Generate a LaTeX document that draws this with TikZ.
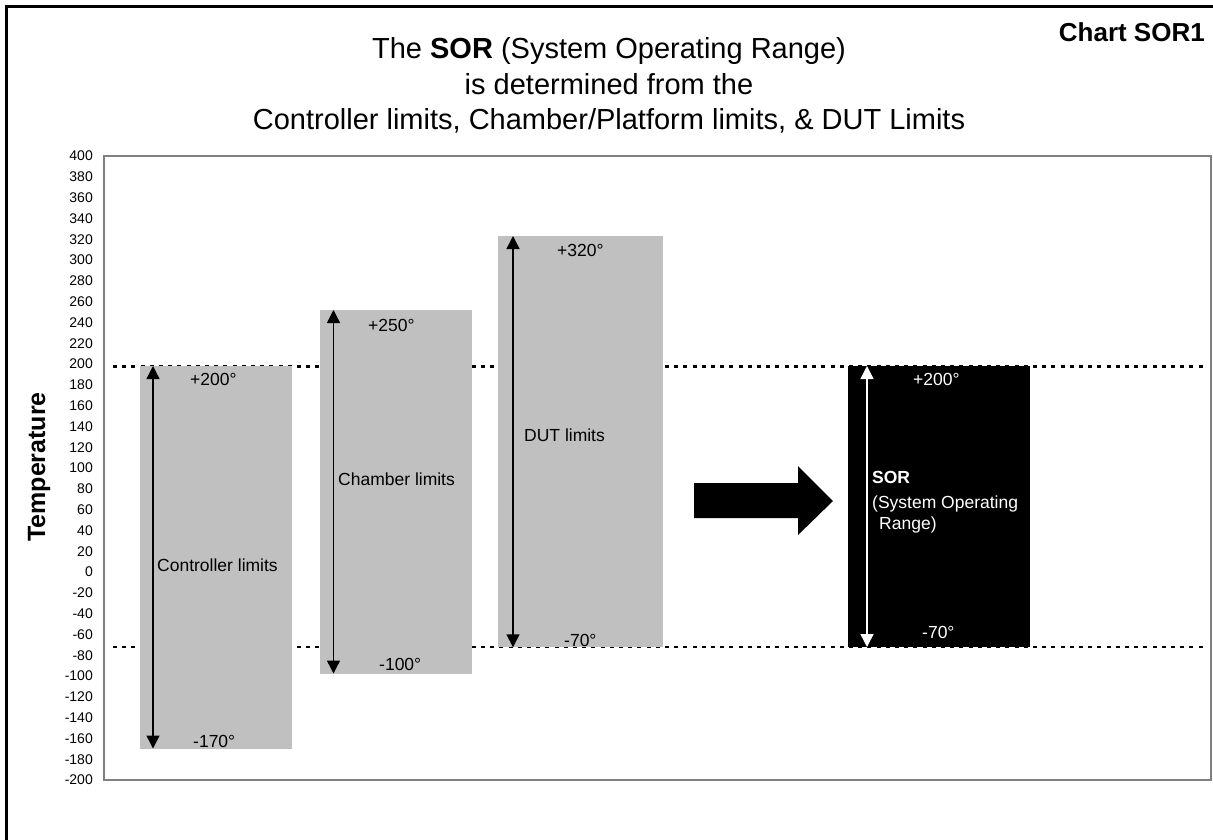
\documentclass[tikz,border=0pt]{standalone}
\usepackage{fontspec}
\setmainfont{Liberation Sans}
\usetikzlibrary{arrows.meta}
\definecolor{bargray}{HTML}{C0C0C0}
\definecolor{framegray}{HTML}{808080}
\tikzset{
  ticklbl/.style={anchor=east, inner sep=0pt, font=\fontsize{14}{16}\selectfont},
  barlbl/.style={anchor=base west, inner sep=0pt, font=\fontsize{17.5}{20}\selectfont},
  titlelbl/.style={anchor=base, inner sep=0pt, font=\fontsize{29}{35}\selectfont},
  barbox/.style={fill=bargray, draw=none},
  limarrow/.style={line width=1.4pt, {Triangle[width=13pt,length=13pt]}-{Triangle[width=13pt,length=13pt]}},
  refline/.style={line width=2.1pt, dash pattern=on 4pt off 5.2pt},
}
\begin{document}
\begin{tikzpicture}[x=1pt,y=-1pt]
\useasboundingbox (0,0) rectangle (1213,839);
\fill[white] (0,0) rectangle (1213,839);
% outer frame (cropped)
\draw[line width=2.2pt] (1214,6.5) -- (6.5,6.5) -- (6.5,840);
% title
\node[titlelbl] (t1) at (609,58) {The \textbf{SOR} (System Operating Range)};
\node[titlelbl] (t2) at (609,94) {is determined from the};
\node[titlelbl] (t3) at (609,129.5) {Controller limits, Chamber/Platform limits, \& DUT Limits};
\node[anchor=base east, inner sep=0pt, font=\fontsize{26}{30}\selectfont\bfseries] (chart) at (1205,41.5) {Chart SOR1};
% plot area
\draw[framegray, line width=1.4pt] (104,156) rectangle (1211,780);
\foreach \v in {400,380,...,-200}{
  \node[ticklbl] (tk\v) at (93,{156+(400-\v)*1.04}) {\v};
}
\node[rotate=90, inner sep=0pt, font=\fontsize{25}{28}\selectfont\bfseries] (ylab) at (39,467) {Temperature};
% reference lines
\coordinate (hiL) at (113,366.5);
\coordinate (hiR) at (1205,366.5);
\coordinate (loL) at (113,646.8);
\coordinate (loR) at (1205,646.8);
\draw[refline] (hiL) -- (hiR);
\draw[refline] (loL) -- (loR);
% bars
\fill[barbox] (140,366) rectangle (292,748.5);
\fill[barbox] (320,310) rectangle (472,673.5);
\fill[barbox] (498,236) rectangle (663,647.3);
\fill[black] (848,366) rectangle (1030,647);
% limit arrows
\coordinate (cT) at (153,366);
\coordinate (cB) at (153,748.5);
\coordinate (hT) at (333.5,310);
\coordinate (hB) at (333.5,673.5);
\coordinate (dT) at (513,236);
\coordinate (dB) at (513,647.3);
\coordinate (sT) at (867,366);
\coordinate (sB) at (867,647);
\draw[limarrow] (cT) -- (cB);
\draw[limarrow] (hT) -- (hB);
\draw[limarrow] (dT) -- (dB);
\draw[limarrow, white] (sT) -- (sB);
% labels
\node[barlbl] (c1) at (190,385) {+200°};
\node[barlbl] (c2) at (193,747) {-170°};
\node[barlbl] (c3) at (157,571) {Controller limits};
\node[barlbl] (h1) at (368,331) {+250°};
\node[barlbl] (h2) at (338,485) {Chamber limits};
\node[barlbl] (h3) at (379,670.5) {-100°};
\node[barlbl] (d1) at (557,256) {+320°};
\node[barlbl] (d2) at (524,441) {DUT limits};
\node[barlbl] (d3) at (564,646) {-70°};
\node[barlbl, white] (s1) at (913,385) {+200°};
\node[barlbl, white] (s2) at (922,638) {-70°};
\node[barlbl, white, font=\fontsize{17.5}{20}\selectfont\bfseries] (s3) at (872,483) {SOR};
\node[barlbl, white] (s4) at (872,508) {(System Operating};
\node[barlbl, white] (s5) at (879,529) {Range)};
% big arrow
\fill[black] (694,483) -- (798,483) -- (798,466) -- (833,501) -- (798,535) -- (798,518) -- (694,518) -- cycle;
\end{tikzpicture}
\end{document}
